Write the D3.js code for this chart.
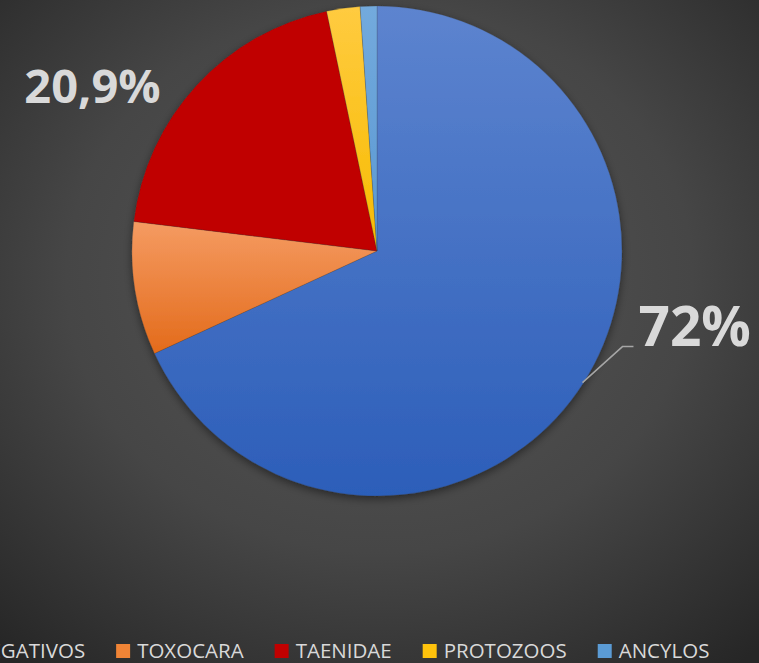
<!DOCTYPE html>
<html>
<head>
<meta charset="utf-8">
<script src="https://cdn.jsdelivr.net/npm/d3@7"></script>
<style>
  html, body { margin: 0; padding: 0; background: #2b2b2b; }
  svg { display: block; }
</style>
</head>
<body>
<svg id="chart" width="759" height="663"></svg>
<script>
// ---- data ----
const categories = ["NEGATIVOS", "TOXOCARA", "TAENIDAE", "PROTOZOOS", "ANCYLOS"];
const values = [62, 8, 18, 2, 1];
const labelTexts = ["72%", null, "20,9%", null, null];
const colorsTop = ["#5d84cf", "#f59b62", "#c00000", "#ffcb40", "#73aadd"];
const colorsBottom = ["#2c5eb9", "#e36b1b", "#c00000", "#f7bb00", "#5a98d2"];
const legendColors = ["#4472c4", "#f08436", "#c00000", "#ffc30c", "#5b9bd5"];

// ---- layout ----
const W = 759, H = 663;
const cx = 377, cy = 251, R = 245;

const svg = d3.select("#chart");
const defs = svg.append("defs");

// background radial gradient
const bg = defs.append("radialGradient").attr("id", "bg")
  .attr("cx", "0.5").attr("cy", "0.42").attr("r", "0.75");
bg.append("stop").attr("offset", "0").attr("stop-color", "#575757");
bg.append("stop").attr("offset", "0.55").attr("stop-color", "#464646");
bg.append("stop").attr("offset", "1").attr("stop-color", "#262626");
svg.append("rect").attr("width", W).attr("height", H).attr("fill", "url(#bg)");

// slice gradients
categories.forEach((c, i) => {
  const g = defs.append("linearGradient").attr("id", "g" + i)
    .attr("x1", 0).attr("y1", 0).attr("x2", 0).attr("y2", 1);
  g.append("stop").attr("offset", 0).attr("stop-color", colorsTop[i]);
  g.append("stop").attr("offset", 1).attr("stop-color", colorsBottom[i]);
});

// shadow
const f = defs.append("filter").attr("id", "shadow")
  .attr("x", "-10%").attr("y", "-10%").attr("width", "120%").attr("height", "125%");
f.append("feDropShadow").attr("dx", 0).attr("dy", 3).attr("stdDeviation", 4)
  .attr("flood-color", "#000").attr("flood-opacity", 0.45);

const pie = d3.pie().sort(null).value(d => d.v);
const data = categories.map((c, i) => ({ c, v: values[i], i }));
const arcs = pie(data);
const arc = d3.arc().innerRadius(0).outerRadius(R);

const g = svg.append("g").attr("transform", `translate(${cx},${cy})`);
const pieG = g.append("g").attr("filter", "url(#shadow)");
pieG.selectAll("path").data(arcs).join("path")
  .attr("d", arc)
  .attr("fill", d => `url(#g${d.data.i})`)
  .attr("stroke", "rgba(60,60,60,0.35)")
  .attr("stroke-width", 0.6);

// labels
const polar = (a, r) => [r * Math.sin(a), -r * Math.cos(a)];
const labelFont = "'Open Sans', 'DejaVu Sans', sans-serif";

// label for NEGATIVOS with leader line
{
  const d = arcs[0];
  const mid = (d.startAngle + d.endAngle) / 2;
  const p0 = polar(mid, R - 1);
  const p1 = [p0[0] + 40, p0[1] - 36];
  const p2 = [p1[0] + 11, p1[1]];
  g.append("polyline")
    .attr("points", [p0, p1, p2].map(p => p.join(",")).join(" "))
    .attr("fill", "none").attr("stroke", "#a6a6a6").attr("stroke-width", 1.5);
  g.append("text")
    .attr("x", p2[0] + 5).attr("y", p2[1] - 1)
    .attr("font-family", labelFont).attr("font-weight", 700)
    .attr("font-size", 55).attr("fill", "#d9d9d9")
    .text(labelTexts[0]);
}
// label for TAENIDAE (no leader)
{
  const d = arcs[2];
  const mid = (d.startAngle + d.endAngle) / 2;
  const p0 = polar(mid, R);
  g.append("text")
    .attr("x", p0[0] - 104).attr("y", p0[1] + 18)
    .attr("text-anchor", "middle")
    .attr("font-family", labelFont).attr("font-weight", 700)
    .attr("font-size", 47).attr("fill", "#d9d9d9")
    .text(labelTexts[2]);
}

// legend
const legendStartX = -47, legendY = 644, sw = 14;
const lg = svg.append("g");
let x = legendStartX;
categories.forEach((c, i) => {
  lg.append("rect").attr("x", x).attr("y", legendY).attr("width", sw).attr("height", sw)
    .attr("fill", legendColors[i]);
  const t = lg.append("text").attr("x", x + 21).attr("y", legendY + 13.5)
    .attr("font-family", labelFont).attr("font-size", 20.5)
    .attr("fill", "#d9d9d9").text(c);
  x = x + 21 + t.node().getComputedTextLength() + 31;
});
</script>
</body>
</html>
